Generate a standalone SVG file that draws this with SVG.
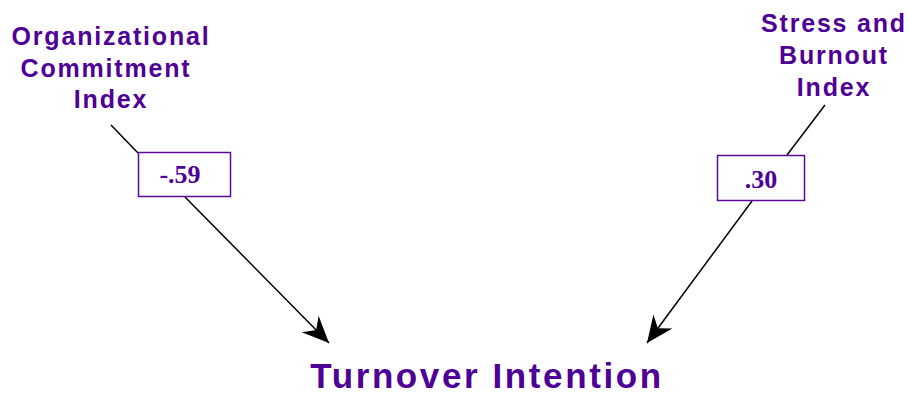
<svg xmlns="http://www.w3.org/2000/svg" width="908" height="395" viewBox="0 0 908 395">
<style>
.lbl{font-family:"Liberation Sans",Arial,sans-serif;font-weight:bold;fill:#4F0096;text-anchor:middle}
.small{font-size:25px;letter-spacing:1.8px}
.big{font-size:35px;letter-spacing:2.6px}
.coef{font-family:"Liberation Serif","Times New Roman",serif;font-weight:bold;font-size:26px;fill:#4F0096;text-anchor:middle}
.box{fill:#fff;stroke:#5A0A9A;stroke-width:1.5}
.ln{stroke:#000;stroke-width:1.5;fill:none}
</style>
<defs>
<marker id="ah" markerUnits="userSpaceOnUse" markerWidth="30" markerHeight="30" viewBox="-26 -13 28 26" refX="0" refY="0" orient="auto">
<path d="M0,0 L-25,-11 L-17,0 L-25,11 Z" fill="#000"/>
</marker>
</defs>
<g id="connectors">
<line class="ln" x1="111" y1="125" x2="138" y2="153"/>
<line class="ln" x1="185" y1="197" x2="329" y2="343" marker-end="url(#ah)"/>
<line class="ln" x1="825" y1="105" x2="787" y2="155"/>
<line class="ln" x1="752" y1="201" x2="647" y2="343" marker-end="url(#ah)"/>
</g>
<g id="org">
<text class="lbl small" x="111" y="45">Organizational</text>
<text class="lbl small" x="106" y="77">Commitment</text>
<text class="lbl small" x="111" y="108">Index</text>
</g>
<g id="stress">
<text class="lbl small" x="834" y="32">Stress and</text>
<text class="lbl small" x="834" y="64">Burnout</text>
<text class="lbl small" x="834" y="96">Index</text>
</g>
<g id="coef1">
<rect class="box" x="138.5" y="152.5" width="92" height="44"/>
<text class="coef" x="180" y="183">-.59</text>
</g>
<g id="coef2">
<rect class="box" x="717.5" y="155.5" width="87" height="45"/>
<text class="coef" x="761" y="188">.30</text>
</g>
<g id="turnover">
<text class="lbl big" x="487" y="388">Turnover Intention</text>
</g>
</svg>
